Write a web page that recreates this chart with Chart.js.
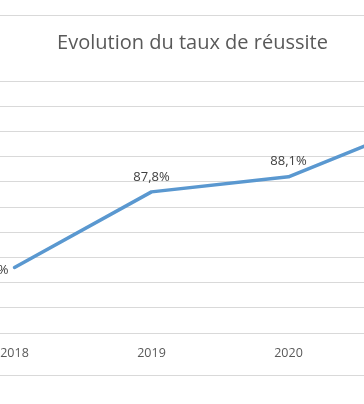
<!DOCTYPE html>
<html>
<head>
<meta charset="utf-8">
<script src="https://cdn.jsdelivr.net/npm/chart.js@4/dist/chart.umd.min.js"></script>
<style>
  html, body { margin: 0; padding: 0; background: #fff; overflow: hidden; width: 364px; height: 404px; }
  .frame { position: absolute; left: -110px; top: 15px; border: 1px solid #d9d9d9; width: 603px; height: 359px; }
  canvas { display: block; }
</style>
</head>
<body>
<div class="frame"><canvas id="chart" width="603" height="359"></canvas></div>
<script>
const years = ['2018', '2019', '2020', '2021']
const successRate = [86.3, 87.8, 88.1, 89.2]
const yMin = 85
const yMax = 90
const yStep = 0.5

const fmt = (v, d) => v.toFixed(d).replace('.', ',') + '%'

// Excel-like data labels: first one sits left of its point, others above
const pointLabels = {
  id: 'pointLabels',
  afterDatasetsDraw(chart) {
    const ctx = chart.ctx
    const meta = chart.getDatasetMeta(0)
    ctx.save()
    ctx.font = '13px "Open Sans"'
    ctx.fillStyle = '#404040'
    ctx.textBaseline = 'middle'
    meta.data.forEach((pt, i) => {
      const text = fmt(successRate[i], 1)
      if (i === 0) {
        ctx.textAlign = 'right'
        ctx.fillText(text, pt.x - 6, pt.y + 3)
      } else {
        ctx.textAlign = 'center'
        ctx.fillText(text, pt.x, pt.y - 15)
      }
    })
    ctx.restore()
  }
}

new Chart('chart', {
  type: 'line',
  data: {
    labels: years,
    datasets: [{
      data: successRate,
      borderColor: '#5A98D0',
      borderWidth: 3.5,
      borderCapStyle: 'round',
      borderJoinStyle: 'round',
      pointRadius: 0,
      tension: 0,
      fill: false
    }]
  },
  options: {
    responsive: false,
    animation: false,
    layout: { padding: { left: 0, right: 0, top: 0, bottom: 9 } },
    plugins: {
      legend: { display: false },
      tooltip: { enabled: false },
      title: {
        display: true,
        text: 'Evolution du taux de réussite',
        color: '#595959',
        font: { family: 'Open Sans', size: 20, weight: 'normal', lineHeight: 1.2 },
        padding: { top: 15, bottom: 26 }
      }
    },
    scales: {
      x: {
        offset: true,
        grid: { display: false },
        border: { display: false },
        ticks: { color: '#595959', font: { family: 'Open Sans', size: 12.5 }, padding: 5 }
      },
      y: {
        min: yMin,
        max: yMax,
        grid: { color: '#d9d9d9', lineWidth: 1, drawTicks: false },
        border: { display: false },
        ticks: {
          stepSize: yStep,
          color: '#595959',
          font: { family: 'Open Sans', size: 12.5 },
          callback: v => fmt(v, 1)
        },
        afterFit: scale => { scale.width = 55 }
      }
    }
  },
  plugins: [pointLabels]
})
</script>
</body>
</html>
